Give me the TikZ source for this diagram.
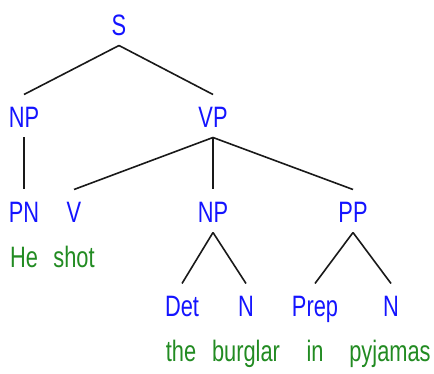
\documentclass[tikz,border=0pt]{standalone}
\usepackage{fontspec}
\setmainfont{Liberation Sans}[FakeStretch=0.74]
\definecolor{catblue}{RGB}{20,20,255}
\definecolor{wordgreen}{RGB}{34,139,34}
\begin{document}
\begin{tikzpicture}[x=1pt,y=-1pt,
  lab/.style={inner sep=0pt, outer sep=0pt, text height=21pt, text depth=0pt,
    font=\fontsize{29.5}{29.5}\selectfont},
  cat/.style={lab, text=catblue},
  word/.style={lab, text=wordgreen},
  edge/.style={line width=1.6pt, black!90}]
\useasboundingbox (0,0) rectangle (434,374);
\node[cat] (S) at (119,25) {S};
\node[cat] (NP1) at (24,117) {NP};
\node[cat] (VP) at (213,117) {VP};
\node[cat] (PN) at (24,212) {PN};
\node[cat] (V) at (74,212) {V};
\node[cat] (NP2) at (213,212) {NP};
\node[cat] (PP) at (353,212) {PP};
\node[word] (He) at (24,257) {He};
\node[word] (shot) at (74,257) {shot};
\node[cat] (Det) at (182,306) {Det};
\node[cat] (N1) at (246,306) {N};
\node[cat] (Prep) at (315,306) {Prep};
\node[cat] (N2) at (391,306) {N};
\node[word] (the) at (181,351) {the};
\node[word] (burglar) at (246,351) {burglar};
\node[word] (in) at (315,351) {in};
\node[word] (pyjamas) at (390,351) {pyjamas};
\foreach \p/\c in {S/NP1,S/VP,NP1/PN,VP/V,VP/NP2,VP/PP,NP2/Det,NP2/N1,PP/Prep,PP/N2}
  \draw[edge] ([yshift=-10pt]\p.south) -- ([yshift=12pt]\c.north);
\end{tikzpicture}
\end{document}
